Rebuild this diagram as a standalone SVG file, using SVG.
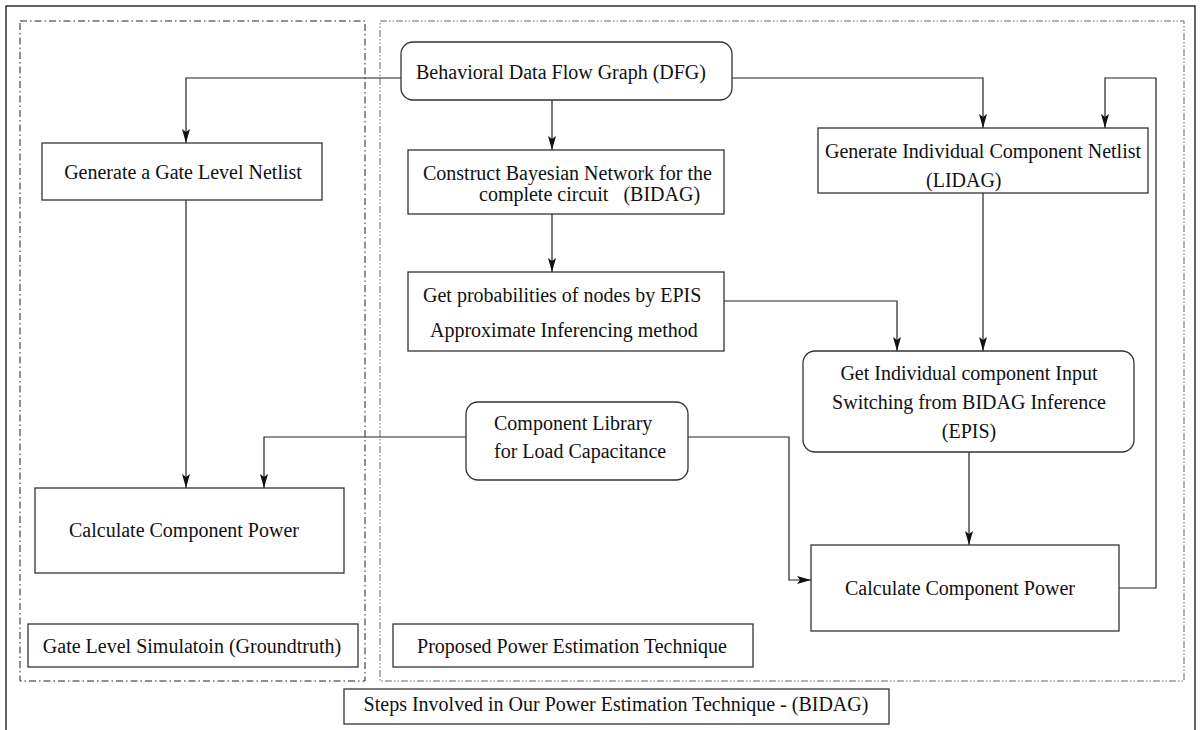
<svg xmlns="http://www.w3.org/2000/svg" width="1200" height="730" viewBox="0 0 1200 730">
  <style>
    .box { fill: #fff; stroke: #333; stroke-width: 1.3; }
    .frame { fill: none; stroke: #111; stroke-width: 1.3; }
    .zone-a { fill: none; stroke: #222; stroke-width: 1; stroke-dasharray: 7 3 1.5 3; }
    .zone-b { fill: none; stroke: #666; stroke-width: 1; stroke-dasharray: 7 2 1.5 2 1.5 2; }
    .wire { fill: none; stroke: #222; stroke-width: 1.2; }
    text { font-family: "Liberation Serif", "Times New Roman", serif; font-size: 20px; fill: #111; }
    .c { text-anchor: middle; }
  </style>
  <defs>
    <marker id="arrow" viewBox="0 0 14 8" refX="14" refY="4" markerWidth="14" markerHeight="8" markerUnits="userSpaceOnUse" orient="auto">
      <path d="M0,0 L14,4 L0,8 L3,4 z" fill="#111"/>
    </marker>
  </defs>

  <!-- outer frame and the two method zones -->
  <rect class="frame" x="6" y="6" width="1189" height="740"/>
  <rect class="zone-a" x="20" y="21" width="345" height="660"/>
  <rect class="zone-b" x="380" y="21" width="804" height="660"/>

  <!-- connectors -->
  <g id="connectors">
    <path class="wire" d="M401,78 H186 V143" marker-end="url(#arrow)"/>
    <path class="wire" d="M552,100 V150" marker-end="url(#arrow)"/>
    <path class="wire" d="M732,78 H983 V128" marker-end="url(#arrow)"/>
    <path class="wire" d="M552,214 V272" marker-end="url(#arrow)"/>
    <path class="wire" d="M186,200 V488" marker-end="url(#arrow)"/>
    <path class="wire" d="M983,193 V351" marker-end="url(#arrow)"/>
    <path class="wire" d="M724,301 H897 V351" marker-end="url(#arrow)"/>
    <path class="wire" d="M466,437 H264 V488" marker-end="url(#arrow)"/>
    <path class="wire" d="M688,437 H789 V580 H811" marker-end="url(#arrow)"/>
    <path class="wire" d="M969,452 V545" marker-end="url(#arrow)"/>
    <path class="wire" d="M1119,588 H1156 V78 H1105 V128" marker-end="url(#arrow)"/>
  </g>

  <g id="dfg">
    <rect class="box" x="401" y="42" width="331" height="58" rx="12"/>
    <text class="c" x="561" y="79">Behavioral Data Flow Graph (DFG)</text>
  </g>

  <g id="gate-netlist">
    <rect class="box" x="42" y="143" width="280" height="57"/>
    <text class="c" x="183" y="179">Generate a Gate Level Netlist</text>
  </g>

  <g id="bayesian-net">
    <rect class="box" x="408" y="150" width="316" height="64"/>
    <text x="423" y="180">Construct Bayesian Network for the</text>
    <text x="479" y="201" xml:space="preserve">complete circuit   (BIDAG)</text>
  </g>

  <g id="component-netlist">
    <rect class="box" x="818" y="128" width="330" height="65"/>
    <text x="825" y="158">Generate Individual Component Netlist</text>
    <text x="926" y="187">(LIDAG)</text>
  </g>

  <g id="epis-probabilities">
    <rect class="box" x="408" y="272" width="316" height="79"/>
    <text x="423" y="302">Get probabilities of nodes by EPIS</text>
    <text x="430" y="337">Approximate Inferencing method</text>
  </g>

  <g id="input-switching">
    <rect class="box" x="803" y="351" width="331" height="101" rx="12"/>
    <text class="c" x="969" y="380">Get Individual component Input</text>
    <text class="c" x="969" y="409">Switching from BIDAG Inference</text>
    <text class="c" x="969" y="438">(EPIS)</text>
  </g>

  <g id="component-library">
    <rect class="box" x="466" y="402" width="222" height="78" rx="12"/>
    <text x="494" y="430">Component Library</text>
    <text x="494" y="458">for Load Capacitance</text>
  </g>

  <g id="gate-power">
    <rect class="box" x="35" y="488" width="309" height="85"/>
    <text class="c" x="184" y="537">Calculate Component Power</text>
  </g>

  <g id="estimated-power">
    <rect class="box" x="811" y="545" width="308" height="86"/>
    <text class="c" x="960" y="595">Calculate Component Power</text>
  </g>

  <g id="label-groundtruth">
    <rect class="box" x="28" y="624" width="330" height="43"/>
    <text class="c" x="192" y="653">Gate Level Simulatoin (Groundtruth)</text>
  </g>

  <g id="label-proposed">
    <rect class="box" x="393" y="624" width="360" height="43"/>
    <text class="c" x="572" y="653">Proposed Power Estimation Technique</text>
  </g>

  <g id="label-steps">
    <rect class="box" x="344" y="689" width="545" height="35"/>
    <text class="c" x="616" y="711">Steps Involved in Our Power Estimation Technique - (BIDAG)</text>
  </g>
</svg>
